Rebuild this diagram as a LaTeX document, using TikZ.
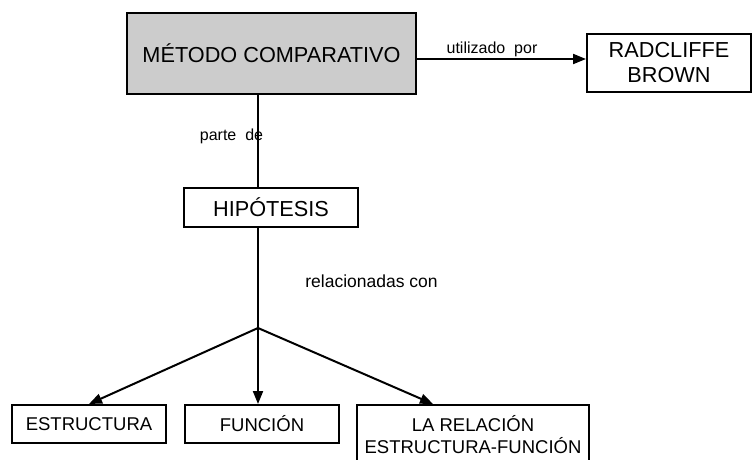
\documentclass[tikz,border=0pt]{standalone}
\usepackage{fontspec}
\setmainfont{Liberation Sans}
\usetikzlibrary{arrows.meta}

\begin{document}
\begin{tikzpicture}[x=1pt,y=-1pt,
    box/.style={draw,line width=2pt,inner sep=0pt,align=center,font=\fontsize{21.7}{25}\selectfont},
    smallbox/.style={box,font=\fontsize{18.5}{21.5}\selectfont},
    lbl/.style={inner sep=0pt,anchor=base,font=\fontsize{16}{19}\selectfont},
    link/.style={line width=2pt},
    arr/.style={link,-{Triangle[length=13pt,width=10pt]}}]
    \useasboundingbox (0,0) rectangle (752,460);
    \node[box,fill=gray!40,minimum width=289pt,minimum height=81pt] (metodo) at (271.5,53.5) {MÉTODO COMPARATIVO};
    \node[box,minimum width=164pt,minimum height=57pt] (radcliffe) at (669,63) {RADCLIFFE\\BROWN};
    \node[box,minimum width=174pt,minimum height=39pt] (hipotesis) at (271,207.5) {HIPÓTESIS};
    \node[smallbox,minimum width=154pt,minimum height=38pt] (estructura) at (89,424) {ESTRUCTURA};
    \node[smallbox,minimum width=154pt,minimum height=38pt] (funcion) at (262,424) {FUNCIÓN};
    \node[smallbox,minimum width=232pt,minimum height=59pt] (relacion) at (473,434.5) {LA RELACIÓN\\ESTRUCTURA-FUNCIÓN};
    \coordinate (split) at (258,328);
    \draw[link,line width=1.4pt] (metodo.south -| split) -- (hipotesis.north -| split);
    \draw[link] (hipotesis.south -| split) -- (split);
    \draw[arr] (split) -- (estructura.north);
    \draw[arr] (split) -- (funcion.north -| split);
    \draw[arr] (split) -- ([xshift=-40pt]relacion.north);
    \draw[arr] ([yshift=-5.5pt]metodo.east) -- ([yshift=-5.5pt]metodo.east -| radcliffe.west);
    \node[lbl] (utilizado) at (492,53) {utilizado\ \ por};
    \node[lbl] (parte) at (231.5,140) {parte\ \ de};
    \node[lbl,font=\fontsize{17.5}{20}\selectfont] (relacionadas) at (371.5,287) {relacionadas con};
\end{tikzpicture}
\end{document}
